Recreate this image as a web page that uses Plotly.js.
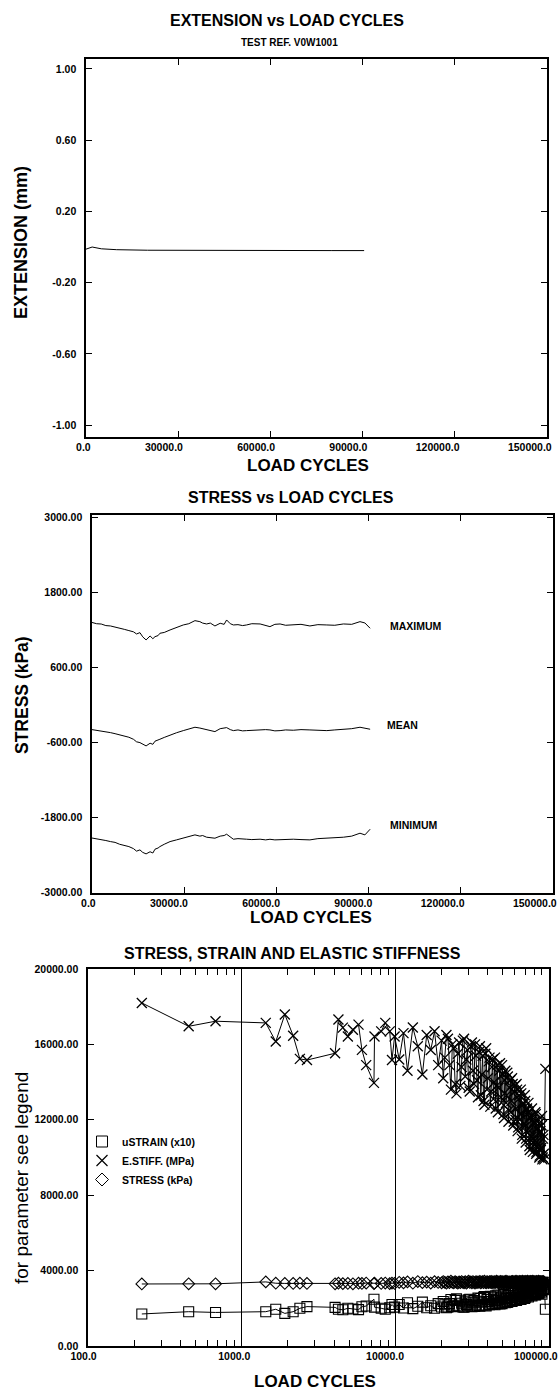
<!DOCTYPE html>
<html>
<head>
<meta charset="utf-8">
<script src="https://cdn.plot.ly/plotly-3.0.1.min.js"></script>
<style>html,body{margin:0;padding:0;background:#fff;}#chart{width:560px;height:1395px;}</style>
</head>
<body>
<div id="chart"></div>
<script>
// ---------- Panel 1: extension ----------
const extCycles = [0, 2000, 5000, 10000, 20000, 40000, 60000, 80000, 90500];
const extension = [-0.012, 0.0, -0.01, -0.015, -0.018, -0.02, -0.02, -0.02, -0.02];
const extTicks = [-1.0, -0.6, -0.2, 0.2, 0.6, 1.0];
const extTickText = ['-1.00', '-0.60', '-0.20', '0.20', '0.60', '1.00'];
const cycleTicks = [0, 30000, 60000, 90000, 120000, 150000];
const cycleTickText = ['0.0', '30000.0', '60000.0', '90000.0', '120000.0', '150000.0'];

// ---------- Panel 2: stress ----------
const stressCycles = [0,1500,3000,4500,6000,7500,9000,10500,12000,13500,
 14500,15600,16500,17600,18900,19800,20500,21500,22100,23500,
 25400,27500,29700,31500,33500,35100,36000,37300,38500,40000,
 41700,43000,43800,45000,46000,47500,49000,50300,52000,54700,
 56500,57900,59500,61200,63000,65500,68000,70900,73500,76400,
 79000,81800,84500,87200,88800,90500];
const stressMax = [1320,1300,1295,1270,1264,1250,1230,1210,1190,1170,
 1136,1157,1090,1040,1104,1060,1093,1110,1147,1160,
 1200,1240,1280,1300,1349,1333,1310,1296,1310,1264,
 1307,1290,1360,1300,1280,1285,1270,1280,1300,1296,
 1270,1253,1290,1296,1275,1280,1290,1264,1285,1280,
 1275,1296,1290,1333,1312,1227];
const stressMean = [-395,-405,-420,-435,-443,-460,-480,-500,-517,-550,
 -590,-603,-625,-656,-613,-630,-580,-565,-549,-520,
 -480,-445,-411,-385,-357,-370,-380,-389,-400,-427,
 -380,-370,-363,-395,-411,-400,-415,-411,-405,-405,
 -395,-400,-415,-411,-400,-405,-395,-400,-410,-411,
 -400,-389,-380,-357,-370,-389];
const stressMin = [-2130,-2140,-2150,-2170,-2187,-2200,-2230,-2250,-2267,-2300,
 -2340,-2320,-2360,-2384,-2350,-2370,-2309,-2290,-2267,-2230,
 -2187,-2160,-2133,-2100,-2080,-2100,-2090,-2117,-2125,-2133,
 -2100,-2090,-2069,-2120,-2149,-2140,-2150,-2149,-2155,-2149,
 -2160,-2150,-2160,-2155,-2145,-2149,-2155,-2160,-2140,-2133,
 -2125,-2117,-2100,-2053,-2080,-1989];
const stressTicks = [-3000, -1800, -600, 600, 1800, 3000];
const stressTickText = ['-3000.00', '-1800.00', '-600.00', '600.00', '1800.00', '3000.00'];
const stressLabels = ['MAXIMUM', 'MEAN', 'MINIMUM'];

// ---------- Panel 3: stress, strain, stiffness ----------
const loadCycles = [224,452,676,1435,1667,1909,2163,2392,2660,4055,4263,4553,4909,5296,5760,6060,6460,7260,7320,8090,8600,9190,9510,9890,
 10600,11300,12000,13000,14000,15000,16000,17000,18000,19000,
 20000,20500,21000,21500,22000,22500,23000,23500,24000,24500,
 25000,25500,26000,26500,27000,27500,28000,28500,29000,29500,
 30000,30500,31000,31500,32000,32500,33000,33500,34000,34500,
 35000,35500,36000,36500,37000,37500,38000,38500,39000,39500,
 40000,40500,41000,41500,42000,42500,43000,43500,44000,44500,
 45000,45500,46000,46500,47000,47500,48000,48500,49000,49500,
 50000,50500,51000,51500,52000,52500,53000,53500,54000,54500,
 55000,55500,56000,56500,57000,57500,58000,58500,59000,59500,
 60000,60500,61000,61500,62000,62500,63000,63500,64000,64500,
 65000,65500,66000,66500,67000,67500,68000,68500,69000,69500,
 70000,70500,71000,71500,72000,72500,73000,73500,74000,74500,
 75000,75500,76000,76500,77000,77500,78000,78500,79000,79500,
 80000,80500,81000,81500,82000,82500,83000,83500,84000,84500,
 85000,85500,86000,86500,87000,87500,88000,88500,89000,89500,
 90000,90500,91000,91500,92000,92500,93000,94700];
const eStiff = [18200,16960,17230,17140,16150,17590,16460,15230,15170,15530,17320,16890,16420,16780,17050,15710,14900,13960,16420,16690,17140,16690,15170,16420,
 15200,16600,14600,16900,15900,14400,16500,15700,16700,14900,
 16200,14200,15300,16500,16300,14900,13600,16000,15800,13900,
 13400,15500,16100,13800,14800,16200,16300,14300,15200,15700,
 13700,13500,15900,16100,14600,13900,16000,15400,14100,13200,
 15600,15900,13300,14400,15400,13000,12800,15500,15800,13600,
 14200,15100,15300,12700,13500,14800,15200,13100,14000,15300,
 12600,13800,14900,12400,13700,14600,15000,13200,12900,14900,
 14400,12300,12100,14100,14600,12900,13300,14500,14300,11900,
 12500,13700,14100,12400,13000,14200,13900,11700,11900,13500,
 13800,12000,12600,13900,13600,11400,11600,13100,13300,12000,
 12300,13600,13400,11000,11200,12800,12900,11600,11800,13300,
 13000,10800,11000,12500,12600,11300,11500,12900,12400,10600,
 10400,12100,12200,10900,11100,12600,12000,10300,10600,11800,
 11900,10700,10900,12400,12300,10200,10300,11500,11600,10500,
 10700,12000,11800,10000,10100,11300,11400,10400,10500,11700,
 12200,9900,10000,11000,11200,10200,9900,14700];
const stressKPa = [3290,3300,3300,3400,3330,3320,3320,3330,3320,3300,3330,3310,3320,3300,3330,3320,3340,3310,3330,3320,3340,3310,3330,3320,
 3380,3350,3400,3330,3420,3360,3390,3340,3410,3370,
 3350,3420,3380,3330,3400,3360,3440,3380,3350,3410,
 3370,3330,3400,3360,3420,3380,3350,3410,3330,3390,
 3440,3370,3400,3350,3420,3380,3330,3410,3360,3400,
 3380,3430,3350,3390,3410,3360,3440,3380,3350,3420,
 3390,3360,3410,3370,3430,3350,3400,3380,3420,3360,
 3390,3440,3370,3410,3350,3400,3380,3430,3360,3410,
 3390,3350,3420,3370,3400,3440,3360,3390,3410,3380,
 3350,3400,3370,3390,3420,3360,3430,3380,3400,3350,
 3410,3370,3440,3390,3360,3420,3380,3400,3350,3430,
 3370,3410,3390,3360,3440,3380,3350,3420,3400,3370,
 3430,3390,3360,3410,3380,3440,3350,3400,3370,3420,
 3390,3360,3430,3380,3410,3350,3400,3440,3370,3390,
 3420,3360,3400,3380,3350,3430,3390,3410,3370,3400,
 3360,3440,3380,3410,3350,3390,3420,3370,3400,3380,
 3410,3360,3390,3430,3370,3400,3380,3300];
const strainX10 = [1700,1820,1780,1820,1950,1730,1820,2000,2090,2050,1950,1920,2000,1960,1930,2080,2120,2480,2060,2000,1950,2030,2200,2060,
 2204,2018,2295,1982,2107,2326,2030,2134,2006,2248,
 2068,2359,2190,2030,2055,2248,2463,2094,2120,2410,
 2500,2161,2081,2428,2264,2068,2055,2343,2204,2134,
 2445,2481,2107,2081,2295,2410,2094,2175,2376,2538,
 2147,2107,2519,2326,2175,2577,2617,2161,2120,2463,
 2359,2219,2190,2638,2481,2264,2204,2557,2393,2190,
 2659,2428,2248,2702,2445,2295,2233,2538,2597,2248,
 2326,2724,2769,2376,2295,2597,2519,2310,2343,2815,
 2680,2445,2376,2702,2577,2359,2410,2863,2815,2481,
 2428,2792,2659,2410,2463,2939,2888,2557,2519,2792,
 2724,2463,2500,3045,2991,2617,2597,2888,2839,2519,
 2577,3102,3045,2680,2659,2965,2913,2597,2702,3160,
 3221,2769,2746,3073,3018,2659,2792,3252,3160,2839,
 2815,3131,3073,2702,2724,3284,3252,2913,2888,3190,
 3131,2792,2839,3350,3317,2965,2939,3221,3190,2863,
 2746,3384,3350,3045,2991,3284,3384,1950];
const paramTicks = [0, 4000, 8000, 12000, 16000, 20000];
const paramTickText = ['0.00', '4000.00', '8000.00', '12000.00', '16000.00', '20000.00'];
const logTicks = [100, 1000, 10000, 100000];
const logTickText = ['100.0', '1000.0', '10000.0', '100000.0'];
const logMinorTicks = [200,300,400,500,600,700,800,900,2000,3000,4000,5000,6000,7000,8000,9000,20000,30000,40000,50000,60000,70000,80000,90000];
const seriesNames = ['uSTRAIN (x10)', 'E.STIFF. (MPa)', 'STRESS (kPa)'];

// ---------- styling ----------
const FAM = 'Liberation Sans, Arial, Helvetica, sans-serif';
const W = 560, H = 1395;
const px = v => v / W;
const py = v => 1 - v / H;
const tickFont = {family: FAM, size: 10.5, color: '#000', weight: 'bold'};
const line = {color: '#000', width: 1};

function axisBase(extra) {
  return Object.assign({
    showline: true, linecolor: '#000', linewidth: 1.6, mirror: 'ticks',
    ticks: 'inside', ticklen: 6, tickcolor: '#000', tickwidth: 1,
    zeroline: false, showgrid: false, tickfont: tickFont, fixedrange: true,
    ticklabeloverflow: 'allow'
  }, extra);
}

const traces = [
  {type: 'scatter', mode: 'lines', x: extCycles, y: extension, xaxis: 'x', yaxis: 'y', line: line, showlegend: false},
  {type: 'scatter', mode: 'lines', x: stressCycles, y: stressMax, xaxis: 'x2', yaxis: 'y2', line: line, showlegend: false},
  {type: 'scatter', mode: 'lines', x: stressCycles, y: stressMean, xaxis: 'x2', yaxis: 'y2', line: line, showlegend: false},
  {type: 'scatter', mode: 'lines', x: stressCycles, y: stressMin, xaxis: 'x2', yaxis: 'y2', line: line, showlegend: false},
  {type: 'scatter', mode: 'lines+markers', x: loadCycles, y: eStiff, xaxis: 'x3', yaxis: 'y3', line: line, showlegend: false,
   marker: {symbol: 'x-thin-open', size: 10, color: '#000', line: {color: '#000', width: 1.3}}},
  {type: 'scatter', mode: 'lines+markers', x: loadCycles, y: stressKPa, xaxis: 'x3', yaxis: 'y3', line: line, showlegend: false,
   marker: {symbol: 'diamond-open', size: 9, color: '#000', line: {color: '#000', width: 1.1}}},
  {type: 'scatter', mode: 'lines+markers', x: loadCycles, y: strainX10, xaxis: 'x3', yaxis: 'y3', line: line, showlegend: false,
   marker: {symbol: 'square-open', size: 10, color: '#000', line: {color: '#000', width: 1.1}}},
  // legend entries (marker only)
  {type: 'scatter', mode: 'markers', x: [null], y: [null], xaxis: 'x3', yaxis: 'y3', name: seriesNames[0],
   marker: {symbol: 'square-open', size: 11, color: '#000', line: {color: '#000', width: 1}}},
  {type: 'scatter', mode: 'markers', x: [null], y: [null], xaxis: 'x3', yaxis: 'y3', name: seriesNames[1],
   marker: {symbol: 'x-thin-open', size: 11, color: '#000', line: {color: '#000', width: 1.2}}},
  {type: 'scatter', mode: 'markers', x: [null], y: [null], xaxis: 'x3', yaxis: 'y3', name: seriesNames[2],
   marker: {symbol: 'diamond-open', size: 10, color: '#000', line: {color: '#000', width: 1}}}
];

function ann(text, xpx, ypx, size, bold, angle) {
  return {text: text, xref: 'paper', yref: 'paper', x: px(xpx), y: py(ypx), xanchor: 'center', yanchor: 'middle',
          showarrow: false, textangle: angle || 0,
          font: {family: FAM, size: size, color: '#000', weight: bold ? 'bold' : 'normal'}};
}

const annotations = [
  ann('EXTENSION vs LOAD CYCLES', 287, 20, 16, true),
  ann('TEST REF. V0W1001', 289, 42, 10, true),
  ann('LOAD CYCLES', 308, 466, 17, true),
  ann('EXTENSION (mm)', 21, 243, 18, true, -90),
  ann('STRESS vs LOAD CYCLES', 291, 498, 16, true),
  ann('LOAD CYCLES', 311, 917, 17, true),
  ann('STRESS (kPa)', 22, 695, 17.5, true, -90),
  ann('STRESS, STRAIN AND ELASTIC STIFFNESS', 292, 953, 16, true),
  ann('LOAD CYCLES', 315, 1381, 17, true),
  ann('for parameter see legend', 21, 1178, 19, false, -90),
  {text: stressLabels[0], xref: 'x2', yref: 'y2', x: 105500, y: 1264, showarrow: false, xanchor: 'center', yanchor: 'middle', font: tickFont},
  {text: stressLabels[1], xref: 'x2', yref: 'y2', x: 101000, y: -320, showarrow: false, xanchor: 'center', yanchor: 'middle', font: tickFont},
  {text: stressLabels[2], xref: 'x2', yref: 'y2', x: 104500, y: -1920, showarrow: false, xanchor: 'center', yanchor: 'middle', font: tickFont}
];

const layout = {
  width: W, height: H, autosize: false,
  margin: {l: 0, r: 0, t: 0, b: 0, pad: 0},
  paper_bgcolor: '#fff', plot_bgcolor: '#fff',
  showlegend: true,
  legend: {x: px(82), y: py(1127), xanchor: 'left', yanchor: 'top', bgcolor: 'rgba(0,0,0,0)', borderwidth: 0,
           font: tickFont, tracegroupgap: 0},
  xaxis: axisBase({anchor: 'y', domain: [px(86), px(547)], range: [0, 150000], tickmode: 'array', tickvals: cycleTicks, ticktext: cycleTickText,
          ticklabelposition: 'outside left', ticklabelshift: 6}),
  yaxis: axisBase({anchor: 'x', domain: [py(437), py(59)], range: [-1.067, 1.056], tickmode: 'array', tickvals: extTicks, ticktext: extTickText, ticklabelstandoff: 6}),
  xaxis2: axisBase({anchor: 'y2', domain: [px(92), px(553)], range: [0, 150000], tickmode: 'array', tickvals: cycleTicks, ticktext: cycleTickText,
          ticklabelposition: 'outside left', ticklabelshift: 5}),
  yaxis2: axisBase({anchor: 'x2', domain: [py(893), py(515)], range: [-3010, 3040], tickmode: 'array', tickvals: stressTicks, ticktext: stressTickText, ticklabelstandoff: 6}),
  xaxis3: axisBase({anchor: 'y3', domain: [px(88), px(549)], type: 'log', range: [2, 5], tickmode: 'array', tickvals: logTicks, ticktext: logTickText,
          ticklabelposition: 'outside left', ticklabelshift: 10,
          showgrid: true, gridcolor: '#000', gridwidth: 1,
          minor: {tickmode: 'array', tickvals: logMinorTicks, ticks: 'inside', ticklen: 6, tickcolor: '#000', tickwidth: 1, showgrid: false}}),
  yaxis3: axisBase({anchor: 'x3', domain: [py(1346), py(969)], range: [0, 20000], tickmode: 'array', tickvals: paramTicks, ticktext: paramTickText, ticklabelstandoff: 6}),
  annotations: annotations
};

Plotly.newPlot('chart', traces, layout, {staticPlot: true, displayModeBar: false});
</script>
</body>
</html>
